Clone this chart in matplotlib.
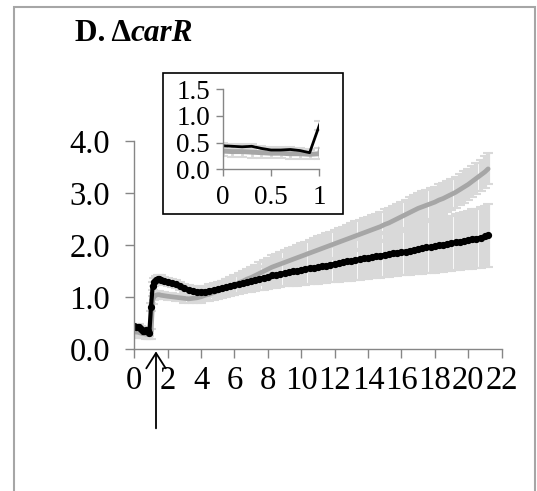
import matplotlib
matplotlib.use("Agg")
import matplotlib.pyplot as plt
from matplotlib.patches import Rectangle

plt.rcParams["font.family"] = ["Liberation Serif", "DejaVu Serif"]

# time (h)
time = [0.0, 0.1, 0.2, 0.3, 0.4, 0.5, 0.6, 0.7, 0.8, 0.9, 1.0,
        1.1, 1.2, 1.3, 1.4, 1.5, 1.6, 1.8, 2.0,
        2.25, 2.5, 2.75, 3.0, 3.25, 3.5, 3.75, 4.0, 4.25, 4.5, 4.75, 5.0,
        5.25, 5.5, 5.75, 6.0, 6.25, 6.5, 6.75, 7.0, 7.25, 7.5, 7.75, 8.0,
        8.25, 8.5, 8.75, 9.0, 9.25, 9.5, 9.75, 10.0, 10.25, 10.5, 10.75, 11.0,
        11.25, 11.5, 11.75, 12.0, 12.25, 12.5, 12.75, 13.0, 13.25, 13.5, 13.75, 14.0,
        14.25, 14.5, 14.75, 15.0, 15.25, 15.5, 15.75, 16.0, 16.25, 16.5, 16.75, 17.0,
        17.25, 17.5, 17.75, 18.0, 18.25, 18.5, 18.75, 19.0, 19.25, 19.5, 19.75, 20.0,
        20.25, 20.5, 20.75, 21.0, 21.2]

black_mean = [0.44, 0.43, 0.42, 0.43, 0.39, 0.36, 0.36, 0.37, 0.35, 0.31, 0.82,
              1.22, 1.30, 1.33, 1.35, 1.35, 1.34, 1.32, 1.30,
              1.27, 1.25, 1.22, 1.18, 1.14, 1.12, 1.10, 1.11, 1.11, 1.13, 1.14, 1.16,
              1.17, 1.19, 1.21, 1.23, 1.26, 1.28, 1.30, 1.32, 1.34, 1.36, 1.38, 1.40,
              1.42, 1.43, 1.45, 1.47, 1.49, 1.50, 1.51, 1.53, 1.54, 1.56, 1.57, 1.58,
              1.60, 1.61, 1.63, 1.64, 1.66, 1.68, 1.69, 1.70, 1.72, 1.73, 1.75, 1.76,
              1.78, 1.79, 1.80, 1.82, 1.83, 1.85, 1.86, 1.87, 1.88, 1.90, 1.91, 1.93,
              1.94, 1.96, 1.97, 1.98, 2.00, 2.01, 2.03, 2.04, 2.06, 2.07, 2.09, 2.10,
              2.12, 2.13, 2.15, 2.17, 2.19]
black_err = [0.05, 0.05, 0.05, 0.05, 0.05, 0.05, 0.05, 0.05, 0.05, 0.05, 0.08,
             0.08, 0.08, 0.08, 0.08, 0.08, 0.08, 0.08, 0.08,
             0.08, 0.08, 0.08, 0.08, 0.09, 0.09, 0.10, 0.10, 0.11, 0.12, 0.13, 0.14,
             0.15, 0.16, 0.17, 0.18, 0.19, 0.20, 0.20, 0.21, 0.22, 0.22, 0.23, 0.24,
             0.24, 0.25, 0.26, 0.26, 0.27, 0.28, 0.29, 0.30, 0.30, 0.31, 0.32, 0.32,
             0.33, 0.34, 0.34, 0.35, 0.36, 0.36, 0.37, 0.38, 0.38, 0.39, 0.40, 0.40,
             0.41, 0.42, 0.42, 0.43, 0.44, 0.44, 0.45, 0.45, 0.46, 0.47, 0.47, 0.48,
             0.49, 0.49, 0.50, 0.51, 0.51, 0.52, 0.53, 0.53, 0.54, 0.55, 0.55, 0.56,
             0.57, 0.57, 0.58, 0.59, 0.60]

gray_mean = [0.34, 0.33, 0.33, 0.32, 0.31, 0.30, 0.30, 0.29, 0.29, 0.28, 0.29,
             0.95, 1.02, 1.04, 1.05, 1.05, 1.04, 1.03, 1.02,
             1.01, 1.00, 0.99, 0.98, 0.97, 0.98, 0.99, 1.01, 1.04, 1.06, 1.09, 1.12,
             1.15, 1.18, 1.21, 1.24, 1.28, 1.31, 1.35, 1.38, 1.42, 1.46, 1.50, 1.54,
             1.58, 1.61, 1.64, 1.67, 1.70, 1.73, 1.76, 1.79, 1.82, 1.85, 1.88, 1.91,
             1.94, 1.97, 2.00, 2.03, 2.06, 2.09, 2.12, 2.15, 2.18, 2.21, 2.24, 2.27,
             2.30, 2.33, 2.36, 2.40, 2.43, 2.47, 2.51, 2.55, 2.59, 2.63, 2.67, 2.71,
             2.74, 2.77, 2.80, 2.83, 2.87, 2.90, 2.94, 2.98, 3.02, 3.07, 3.12, 3.17,
             3.23, 3.29, 3.35, 3.41, 3.47]
gray_err = [0.10, 0.10, 0.10, 0.10, 0.09, 0.09, 0.09, 0.09, 0.09, 0.09, 0.10,
            0.07, 0.07, 0.07, 0.07, 0.07, 0.07, 0.07, 0.07,
            0.07, 0.07, 0.07, 0.08, 0.08, 0.09, 0.10, 0.11, 0.12, 0.13, 0.14, 0.15,
            0.16, 0.17, 0.18, 0.19, 0.19, 0.20, 0.20, 0.21, 0.21, 0.22, 0.22, 0.22,
            0.23, 0.23, 0.23, 0.24, 0.24, 0.24, 0.25, 0.25, 0.25, 0.25, 0.26, 0.26,
            0.26, 0.26, 0.26, 0.27, 0.27, 0.27, 0.27, 0.27, 0.28, 0.28, 0.28, 0.28,
            0.28, 0.28, 0.29, 0.29, 0.29, 0.29, 0.29, 0.29, 0.29, 0.30, 0.30, 0.30,
            0.30, 0.30, 0.30, 0.30, 0.30, 0.30, 0.30, 0.30, 0.30, 0.30, 0.30, 0.30,
            0.30, 0.30, 0.30, 0.30, 0.30]

main_xticks = [0, 2, 4, 6, 8, 10, 12, 14, 16, 18, 20, 22]
main_yticks = [0.0, 1.0, 2.0, 3.0, 4.0]
inset_xticks = [0, 0.5, 1]
inset_xlabels = ["0", "0.5", "1"]
inset_yticks = [0.0, 0.5, 1.0, 1.5]

axis_gray = "#868686"
bar_gray = "#d9d9d9"
line_gray = "#a6a6a6"

fig = plt.figure(figsize=(5.37, 4.91), dpi=100)


def draw_series(a, lw_black, lw_gray, ms, ew):
    a.errorbar(time, gray_mean, yerr=gray_err, fmt="none", ecolor=bar_gray,
               elinewidth=ew, capsize=3.5, capthick=1.5)
    a.errorbar(time, black_mean, yerr=black_err, fmt="none", ecolor=bar_gray,
               elinewidth=ew, capsize=3.5, capthick=1.5)
    a.plot(time, gray_mean, color=line_gray, lw=lw_gray, solid_capstyle="round")
    a.plot(time, black_mean, color="black", lw=lw_black, marker="o", ms=ms,
           solid_capstyle="round")


def style_axes(a):
    for s in ["top", "right"]:
        a.spines[s].set_visible(False)
    for s in ["left", "bottom"]:
        a.spines[s].set_color(axis_gray)
        a.spines[s].set_linewidth(1.0)


# main panel
ax = fig.add_axes([0.2501, 0.2886, 0.6838, 0.4236])
ax.set_facecolor("none")
draw_series(ax, 3.0, 3.4, 4.2, 3.0)
ax.set_xlim(0, 22)
ax.set_ylim(0, 4)
ax.set_xticks(main_xticks)
ax.set_yticks(main_yticks)
ax.set_yticklabels(["%.1f" % v for v in main_yticks])
style_axes(ax)
ax.tick_params(axis="both", direction="out", length=6.5, width=1,
               color=axis_gray, labelsize=23.5)
ax.tick_params(axis="y", pad=11)
ax.tick_params(axis="x", pad=5)

# arrow marking the treatment time
ax.annotate("", xy=(1.3, -0.04), xytext=(1.3, -1.52),
            arrowprops=dict(arrowstyle="->,head_length=1.1,head_width=0.7",
                            color="black", lw=1.3, shrinkA=0, shrinkB=0),
            annotation_clip=False)

# inset box
box = Rectangle((0.3041, 0.5642), 0.3341, 0.2877, transform=fig.transFigure,
                facecolor="white", edgecolor="black", lw=1.2, zorder=1)
fig.add_artist(box)

ins = fig.add_axes([0.4147, 0.6552, 0.1799, 0.1635])
ins.set_zorder(2)
ins.set_facecolor("none")
draw_series(ins, 2.0, 3.5, 0, 2.0)
ins.set_xlim(0, 1)
ins.set_ylim(0, 1.5)
ins.set_xticks(inset_xticks)
ins.set_xticklabels(inset_xlabels)
ins.set_yticks(inset_yticks)
ins.set_yticklabels(["%.1f" % v for v in inset_yticks])
style_axes(ins)
ins.tick_params(axis="both", direction="out", length=5, width=1,
                color=axis_gray, labelsize=19.5)
ins.tick_params(axis="y", pad=4)
ins.tick_params(axis="x", pad=6)

# outer frame
frame = Rectangle((14 / 537, -0.05), 521 / 537, 1.036, transform=fig.transFigure,
                  fill=False, edgecolor="#a6a6a6", lw=1.5, zorder=3)
fig.add_artist(frame)

# title
t1 = fig.text(75 / 537, 1 - 40.7 / 491, "D. \u0394", fontsize=22.5,
              fontweight="bold", va="baseline", ha="left")
ax.annotate("carR", xy=(1, 0), xycoords=t1, va="bottom", ha="left",
            fontsize=22.5, fontweight="bold", fontstyle="italic",
            annotation_clip=False)

fig.savefig("out.png", dpi=100)
